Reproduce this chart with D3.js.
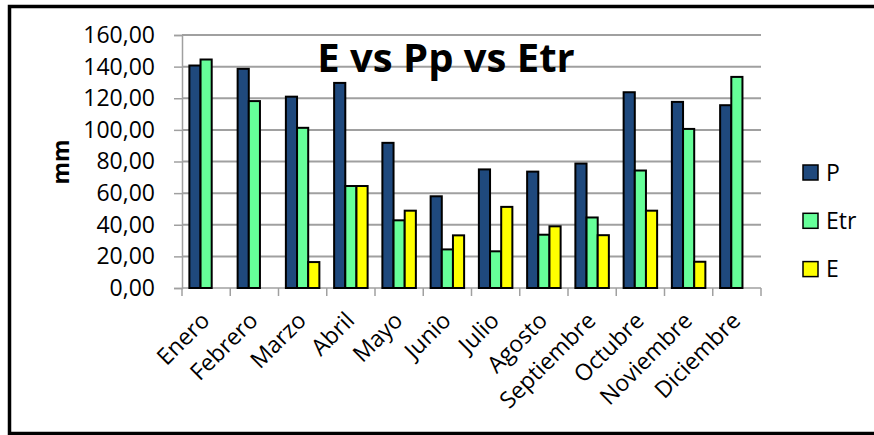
<!DOCTYPE html>
<html>
<head>
<meta charset="utf-8">
<script src="https://cdn.jsdelivr.net/npm/d3@7"></script>
<style>
  html, body { margin: 0; padding: 0; background: #fff; }
  svg { display: block; font-family: "Open Sans", sans-serif; }
</style>
</head>
<body>
<div id="chart"></div>
<script>
// Monthly values (mm)
const meses = ['Enero', 'Febrero', 'Marzo', 'Abril', 'Mayo', 'Junio', 'Julio',
  'Agosto', 'Septiembre', 'Octubre', 'Noviembre', 'Diciembre'];
const valoresP = [140.7, 138.6, 121.0, 129.7, 91.8, 58.0, 75.0, 73.6, 78.7, 123.8, 117.7, 115.6];
const valoresEtr = [144.5, 118.2, 101.3, 64.5, 42.8, 24.4, 23.2, 33.7, 44.6, 74.3, 100.6, 133.5];
const valoresE = [0, 0, 16.4, 64.5, 48.9, 33.3, 51.3, 39.0, 33.4, 48.9, 16.6, 0];
const series = ['P', 'Etr', 'E'];
const yTicks = [0, 20, 40, 60, 80, 100, 120, 140, 160];

const colores = { P: '#1f497d', Etr: '#66ff99', E: '#ffff00' };
const valores = { P: valoresP, Etr: valoresEtr, E: valoresE };

const width = 874, height = 435;
const margin = { top: 35, right: 113, bottom: 147, left: 182 };
const plotW = width - margin.left - margin.right;
const plotH = height - margin.top - margin.bottom;

const svg = d3.select('#chart').append('svg')
  .attr('width', width)
  .attr('height', height);

// outer frame (no right edge visible in the picture)
svg.append('path')
  .attr('d', `M${width + 5},6.5 H9.5 V433.5 H${width + 5}`)
  .attr('fill', 'none')
  .attr('stroke', '#000')
  .attr('stroke-width', 3.5);

const g = svg.append('g')
  .attr('transform', `translate(${margin.left},${margin.top})`);

const x = d3.scaleBand()
  .domain(meses)
  .range([0, plotW])
  .paddingInner(0)
  .paddingOuter(0);

const x1 = d3.scaleBand()
  .domain(series)
  .range([x.bandwidth() * 0.153, x.bandwidth() * 0.847])
  .padding(0);

const y = d3.scaleLinear()
  .domain([0, 160])
  .range([plotH, 0]);

// gridlines
g.append('g')
  .selectAll('line')
  .data(yTicks.filter(d => d > 0))
  .enter()
  .append('line')
  .attr('x1', 0)
  .attr('x2', plotW)
  .attr('y1', d => y(d))
  .attr('y2', d => y(d))
  .attr('stroke', '#a0a0a0')
  .attr('stroke-width', 2);

// y axis
const yAxis = g.append('g')
  .call(d3.axisLeft(y)
    .tickValues(yTicks)
    .tickSize(8)
    .tickPadding(19)
    .tickFormat(d => d3.format('.2f')(d).replace('.', ',')));
yAxis.select('.domain').attr('stroke', '#a0a0a0').attr('stroke-width', 1.5);
yAxis.selectAll('.tick line').attr('stroke', '#a0a0a0').attr('stroke-width', 1.5);
yAxis.selectAll('.tick text')
  .attr('font-size', 23)
  .attr('fill', '#000')
  .attr('font-family', '"Open Sans", sans-serif');

// x axis: ticks at band boundaries
const xAxisG = g.append('g')
  .attr('transform', `translate(0,${plotH})`);
xAxisG.append('line')
  .attr('x1', 0).attr('x2', plotW)
  .attr('y1', 0).attr('y2', 0)
  .attr('stroke', '#a0a0a0')
  .attr('stroke-width', 1.5);
xAxisG.selectAll('line.tk')
  .data(meses.concat(['fin']))
  .enter()
  .append('line')
  .attr('class', 'tk')
  .attr('x1', (d, i) => i < meses.length ? x(d) : plotW)
  .attr('x2', (d, i) => i < meses.length ? x(d) : plotW)
  .attr('y1', 0)
  .attr('y2', 8)
  .attr('stroke', '#a0a0a0')
  .attr('stroke-width', 1.5);

xAxisG.selectAll('text')
  .data(meses)
  .enter()
  .append('text')
  .attr('transform', d => `translate(${x(d) + x.bandwidth() / 2 + 5},${34}) rotate(-45)`)
  .attr('text-anchor', 'end')
  .attr('font-size', 23)
  .attr('fill', '#000')
  .text(d => d);

// bars
const grupos = g.append('g')
  .selectAll('g')
  .data(meses)
  .enter()
  .append('g')
  .attr('transform', d => `translate(${x(d)},0)`);

grupos.selectAll('rect')
  .data((m, i) => series.map(s => ({ serie: s, valor: valores[s][i] })))
  .enter()
  .filter(d => d.valor > 0)
  .append('rect')
  .attr('x', d => x1(d.serie))
  .attr('y', d => y(d.valor))
  .attr('width', x1.bandwidth())
  .attr('height', d => plotH - y(d.valor))
  .attr('fill', d => colores[d.serie])
  .attr('stroke', '#000')
  .attr('stroke-width', 2);

// title
svg.append('text')
  .attr('x', 446)
  .attr('y', 72)
  .attr('text-anchor', 'middle')
  .attr('font-size', 40)
  .attr('font-weight', 'bold')
  .attr('fill', '#000')
  .text('E vs Pp vs Etr');

// y axis title
svg.append('text')
  .attr('transform', 'translate(69,162) rotate(-90)')
  .attr('text-anchor', 'middle')
  .attr('font-size', 23)
  .attr('font-weight', 'bold')
  .attr('fill', '#000')
  .text('mm');

// legend
const legend = svg.append('g')
  .attr('transform', 'translate(803,165)');
const items = legend.selectAll('g')
  .data(series)
  .enter()
  .append('g')
  .attr('transform', (d, i) => `translate(0,${i * 48.3})`);
items.append('rect')
  .attr('width', 15)
  .attr('height', 15)
  .attr('fill', d => colores[d])
  .attr('stroke', '#000')
  .attr('stroke-width', 1.5);
items.append('text')
  .attr('x', 23)
  .attr('y', 7.5)
  .attr('dy', '0.36em')
  .attr('font-size', 23)
  .attr('fill', '#000')
  .text(d => d);
</script>
</body>
</html>
